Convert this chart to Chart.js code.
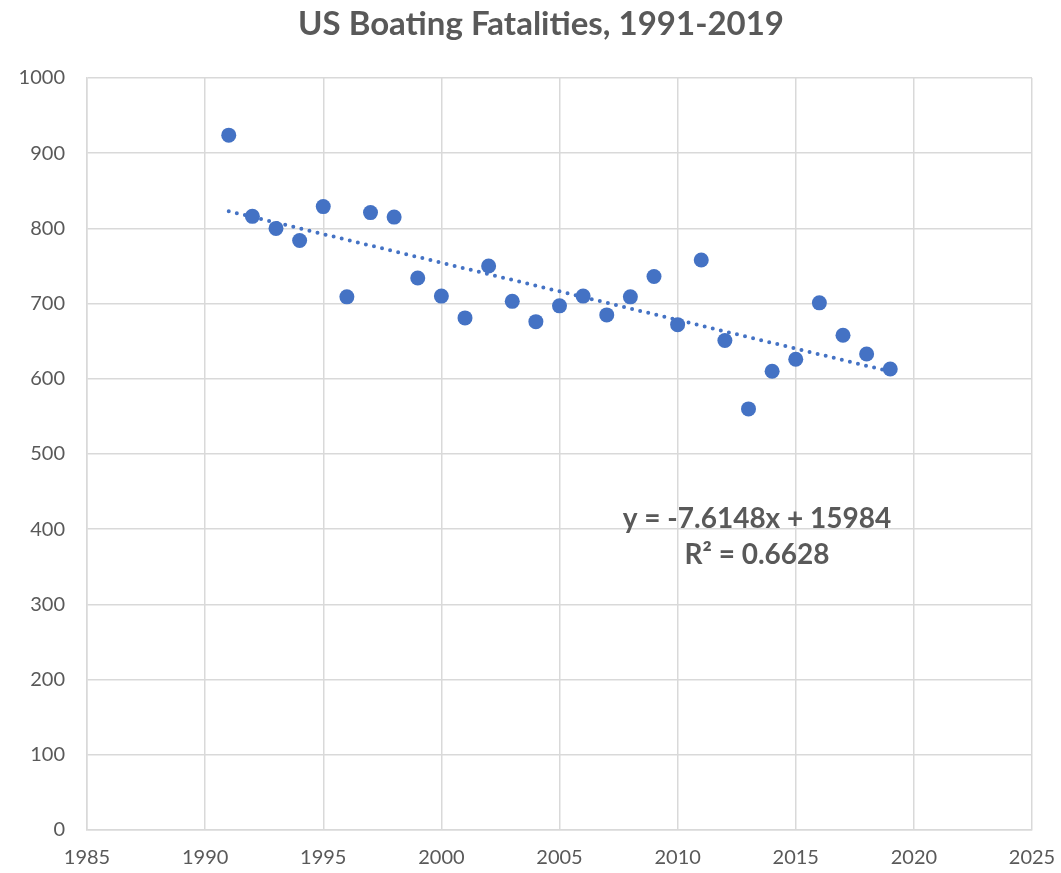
<!DOCTYPE html>
<html>
<head>
<meta charset="utf-8">
<script src="https://cdn.jsdelivr.net/npm/chart.js@4"></script>
<style>
  html, body { margin:0; padding:0; background:#fff; }
  #wrap { width:1061px; height:873px; position:relative; }
</style>
</head>
<body>
<div id="wrap"><canvas id="chart" width="1061" height="873"></canvas></div>
<script>
// US boating fatalities per year
const years = [1991,1992,1993,1994,1995,1996,1997,1998,1999,2000,
               2001,2002,2003,2004,2005,2006,2007,2008,2009,2010,
               2011,2012,2013,2014,2015,2016,2017,2018,2019];
const fatalities = [924,816,800,784,829,709,821,815,734,710,
                    681,750,703,676,697,710,685,709,736,672,
                    758,651,560,610,626,701,658,633,613];
// linear trendline end points (as shown in the picture)
const trendYears = [1991, 2019];
const trendValues = [822.9, 609.7];
const xTicks = [1985,1990,1995,2000,2005,2010,2015,2020,2025];
const yTicks = [0,100,200,300,400,500,600,700,800,900,1000];
const titleText = 'US Boating Fatalities, 1991-2019';
const eqLines = ['y = -7.6148x + 15984', 'R\u00b2 = 0.6628'];

const GREY = '#595959';
const GRID = '#d9d9d9';
const BLUE = '#4472C4';
const FONT = 'Lato, "Open Sans", sans-serif';

(function(){
  const pts = years.map((y, i) => ({ x: y, y: fatalities[i] }));
  const trend = trendYears.map((y, i) => ({ x: y, y: trendValues[i] }));

  const overlay = {
    id: 'overlay',
    afterDraw(chart){
      const ctx = chart.ctx;
      ctx.save();
      ctx.fillStyle = GREY;
      ctx.textAlign = 'center';
      ctx.textBaseline = 'middle';
      ctx.font = 'bold 33px ' + FONT;
      ctx.fillText(titleText, 541, 24);
      ctx.font = 'bold 28px ' + FONT;
      ctx.fillText(eqLines[0], 757, 519);
      ctx.fillText(eqLines[1], 757, 555);
      ctx.restore();
    }
  };

  new Chart(document.getElementById('chart').getContext('2d'), {
    type: 'scatter',
    data: {
      datasets: [
        { label: 'Fatalities', data: pts, backgroundColor: BLUE, borderColor: BLUE,
          pointRadius: 7.5, pointHoverRadius: 7.5, borderWidth: 0, order: 1 },
        { label: 'Trend', data: trend, showLine: true, pointRadius: 0,
          borderColor: BLUE, borderWidth: 4, borderDash: [0, 8.3], borderCapStyle: 'round',
          fill: false, order: 2 }
      ]
    },
    options: {
      responsive: false,
      animation: false,
      layout: { padding: { top: 78, right: 29, left: 0, bottom: 0 } },
      plugins: { legend: { display: false }, tooltip: { enabled: false }, title: { display: false } },
      scales: {
        x: {
          type: 'linear', min: 1985, max: 2025,
          afterBuildTicks: s => { s.ticks = xTicks.map(v => ({ value: v })); },
          afterFit: s => { s.height = 43; s.paddingLeft = 0; s.paddingRight = 0; },
          grid: { color: GRID, lineWidth: 1.5, drawTicks: false },
          border: { color: GRID, width: 1.5 },
          ticks: { color: GREY, font: { family: FONT, size: 20 }, padding: 16, maxRotation: 0,
                   callback: v => String(v) }
        },
        y: {
          type: 'linear', min: 0, max: 1000,
          afterBuildTicks: s => { s.ticks = yTicks.map(v => ({ value: v })); },
          afterFit: s => { s.width = 87; s.paddingTop = 0; s.paddingBottom = 0; },
          grid: { color: GRID, lineWidth: 1.5, drawTicks: false },
          border: { color: GRID, width: 1.5 },
          ticks: { color: GREY, font: { family: FONT, size: 20 }, padding: 22,
                   callback: v => String(v) }
        }
      }
    },
    plugins: [overlay]
  });
})();
</script>
</body>
</html>
